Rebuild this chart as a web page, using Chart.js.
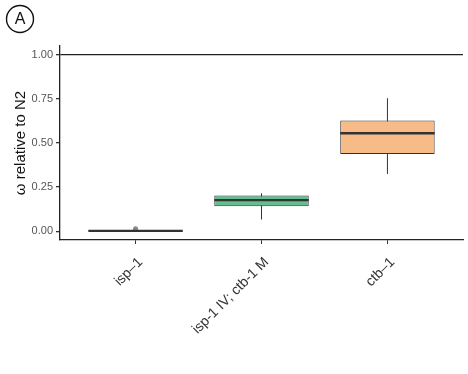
<!DOCTYPE html>
<html>
<head>
<meta charset="utf-8">
<script src="https://cdn.jsdelivr.net/npm/chart.js@4"></script>
<style>
html, body { margin: 0; padding: 0; background: #fff; }
#wrap { width: 468px; height: 374px; position: relative; }
</style>
</head>
<body>
<div id="wrap"><canvas id="boxChart"></canvas></div>
<script>
// box plot summary per strain
const strains = ['isp\u20131', 'isp-1 IV; ctb-1 M', 'ctb\u20131'];
const whiskerLow = [0, 0.066, 0.324];
const boxLow = [0, 0.142, 0.438];
const medians = [0.002, 0.176, 0.555];
const boxHigh = [0.006, 0.203, 0.627];
const whiskerHigh = [0.006, 0.215, 0.754];
const outlierX = [1];
const outlierY = [0.013];
const yTicks = [0, 0.25, 0.5, 0.75, 1];
const boxColors = ['#F8766D', '#62C08F', '#F6BB86'];

const axisFont = { family: 'Liberation Sans, Arial, sans-serif', size: 11 };

// whiskers behind the boxes, medians on top, panel tag "A"
const boxPlotLines = {
    id: 'boxPlotLines',
    beforeDatasetsDraw(chart) {
        const ctx = chart.ctx;
        const x = chart.scales.x, y = chart.scales.y;
        ctx.save();
        ctx.strokeStyle = '#333';
        ctx.lineWidth = 1;
        strains.forEach((s, i) => {
            const px = x.getPixelForValue(i + 1);
            ctx.beginPath();
            ctx.moveTo(px, y.getPixelForValue(whiskerLow[i]));
            ctx.lineTo(px, y.getPixelForValue(whiskerHigh[i]));
            ctx.stroke();
        });
        ctx.restore();
    },
    afterDatasetsDraw(chart) {
        const ctx = chart.ctx;
        const y = chart.scales.y;
        const meta = chart.getDatasetMeta(0);
        ctx.save();
        ctx.strokeStyle = '#333';
        ctx.lineWidth = 2.4;
        meta.data.forEach((bar, i) => {
            const p = bar.getProps(['x', 'width'], true);
            const py = y.getPixelForValue(medians[i]);
            ctx.beginPath();
            ctx.moveTo(p.x - p.width / 2, py);
            ctx.lineTo(p.x + p.width / 2, py);
            ctx.stroke();
        });
        ctx.restore();
    },
    afterDraw(chart) {
        const ctx = chart.ctx;
        ctx.save();
        ctx.strokeStyle = '#111';
        ctx.lineWidth = 1.4;
        ctx.beginPath();
        ctx.arc(20, 19, 13.5, 0, Math.PI * 2);
        ctx.stroke();
        ctx.fillStyle = '#111';
        ctx.font = '16px Liberation Sans, Arial, sans-serif';
        ctx.textAlign = 'center';
        ctx.textBaseline = 'middle';
        ctx.fillText('A', 20, 20);
        ctx.restore();
    }
};

const ctx = document.getElementById('boxChart').getContext('2d');
new Chart(ctx, {
    type: 'bar',
    data: {
        datasets: [{
            label: 'box',
            data: strains.map((s, i) => ({ x: i + 1, y: [boxLow[i], boxHigh[i]] })),
            backgroundColor: boxColors,
            borderColor: '#333',
            borderWidth: 1,
            borderSkipped: false,
            categoryPercentage: 1,
            barPercentage: 0.75,
            order: 2
        }, {
            type: 'scatter',
            label: 'outliers',
            data: outlierX.map((v, i) => ({ x: v, y: outlierY[i] })),
            backgroundColor: '#888',
            borderColor: '#888',
            pointRadius: 2.2,
            order: 1
        }]
    },
    options: {
        responsive: true,
        maintainAspectRatio: false,
        animation: false,
        layout: { padding: { top: 46, right: 2, left: 0, bottom: 0 } },
        plugins: {
            legend: { display: false },
            tooltip: { enabled: false }
        },
        scales: {
            x: {
                type: 'linear',
                min: 0.4,
                max: 3.6,
                offset: false,
                afterBuildTicks: scale => {
                    scale.ticks = strains.map((s, i) => ({ value: i + 1 }));
                },
                afterFit: scale => { scale.height = 134; },
                grid: { display: true, drawOnChartArea: false, drawTicks: true, offset: false, tickLength: 4, tickColor: '#333' },
                border: { display: true, color: '#222', width: 1.3 },
                ticks: {
                    autoSkip: false,
                    minRotation: 45,
                    maxRotation: 45,
                    padding: 10,
                    labelOffset: 5,
                    color: '#333',
                    font: { family: 'Liberation Sans, Arial, sans-serif', size: 14 },
                    callback: v => strains[v - 1]
                }
            },
            y: {
                min: -0.05,
                max: 1.05,
                afterBuildTicks: scale => {
                    scale.ticks = yTicks.map(v => ({ value: v }));
                },
                afterFit: scale => { scale.width = 60; },
                grid: {
                    color: c => (c.tick && c.tick.value === 1 ? '#222' : 'rgba(0,0,0,0)'),
                    lineWidth: 1.3,
                    tickColor: '#333',
                    tickLength: 4
                },
                border: { display: true, color: '#222', width: 1.3 },
                ticks: {
                    padding: 3,
                    color: '#555',
                    font: axisFont,
                    callback: v => v.toFixed(2)
                },
                title: {
                    display: true,
                    text: '\u03c9 relative to N2',
                    color: '#111',
                    font: { family: 'Liberation Sans, Arial, sans-serif', size: 15 },
                    padding: { top: 12, bottom: 0 }
                }
            }
        }
    },
    plugins: [boxPlotLines]
});
</script>
</body>
</html>
